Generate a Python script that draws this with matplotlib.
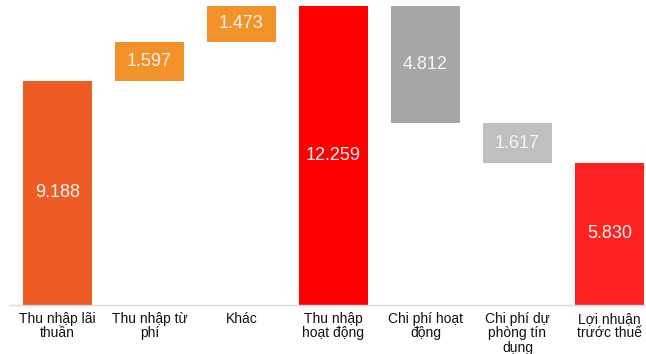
import matplotlib
matplotlib.use("Agg")
import matplotlib.pyplot as plt

plt.rcParams['font.family'] = ['Liberation Sans', 'DejaVu Sans']

# Waterfall components (billion VND)
categories = ["Thu nhập lãi\nthuần", "Thu nhập từ\nphí", "Khác", "Thu nhập\nhoạt động",
              "Chi phí hoạt\nđộng", "Chi phí dự\nphòng tín\ndụng", "Lợi nhuận\ntrước thuế"]
values = [9188, 1597, 1473, 12259, 4812, 1617, 5830]
kinds = ["total", "up", "up", "total", "down", "down", "total"]
colors = ["#EE5B24", "#F39229", "#F39229", "#FF0000", "#A6A6A6", "#BFBFBF", "#FF2121"]

bottoms, heights = [], []
running = 0
for v, k in zip(values, kinds):
    if k == "total":
        bottoms.append(0)
        heights.append(v)
        running = v
    elif k == "up":
        bottoms.append(running)
        heights.append(v)
        running += v
    else:
        running -= v
        bottoms.append(running)
        heights.append(v)

W, H = 646, 354
fig = plt.figure(figsize=(W / 100, H / 100), dpi=100)
ax = fig.add_axes([10 / W, (H - 305) / H, 636 / W, 305 / H])

x = list(range(len(values)))
ax.bar(x, heights, bottom=bottoms, width=0.75, color=colors, zorder=2)

for xi, b, h, v in zip(x, bottoms, heights, values):
    ax.text(xi, b + h / 2, f"{v:,}".replace(",", "."), ha="center", va="center",
            color="#F5F5F5", fontsize=13, zorder=3)

ax.set_xlim(-0.516, 6.397)
ax.set_ylim(0, 12505)
ax.set_xticks(x)
ax.set_xticklabels(categories, fontsize=10, color="#111111", linespacing=1.05)
ax.tick_params(axis="x", length=0, pad=5)
ax.set_yticks([])
for s in ["top", "right", "left"]:
    ax.spines[s].set_visible(False)
ax.spines["bottom"].set_color("#D9D9D9")
ax.spines["bottom"].set_linewidth(1.0)

fig.savefig("out.png", dpi=100)
